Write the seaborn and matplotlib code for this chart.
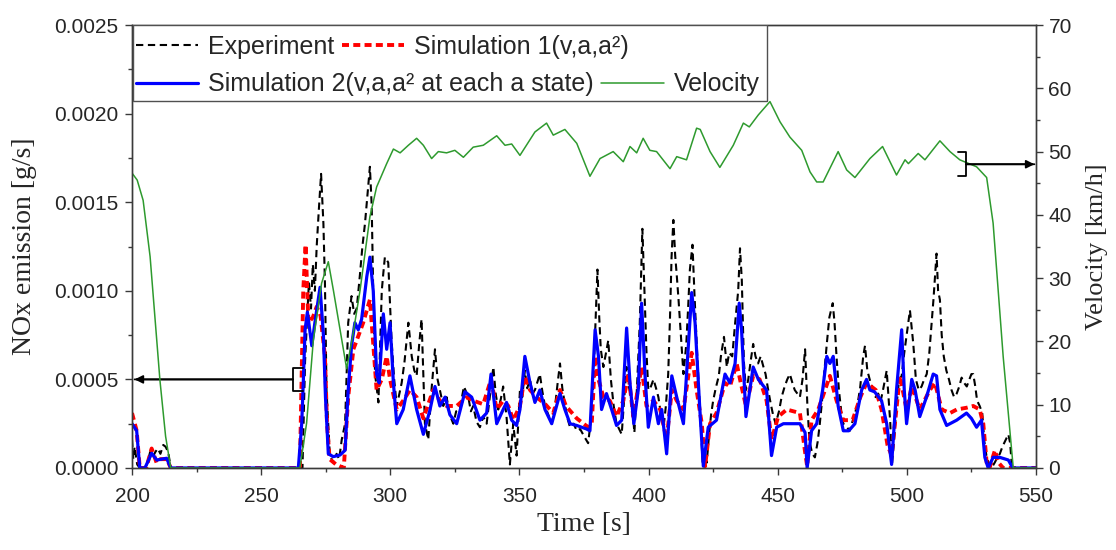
import numpy as np
import matplotlib
matplotlib.use("Agg")
import matplotlib.pyplot as plt
import seaborn as sns
from matplotlib.ticker import MultipleLocator, FormatStrFormatter
from matplotlib.patches import Rectangle

# NOx emission rates are given in units of 1e-4 g/s, velocity in km/h
NOX_UNIT = 1e-4

exp_t = [
    200, 200.5, 201, 202, 203, 205, 206, 207, 208, 209,
    210, 211, 212.1, 213, 214, 215, 266, 266.5, 267, 267.8,
    268.5, 269.3, 270, 270.8, 271.5, 272.3, 273.2, 274.1, 274.7, 275.3,
    276.6, 278, 279.2, 280.2, 281.2, 282.5, 283.7, 285, 286, 287,
    288.3, 289.2, 290.2, 291.2, 292.1, 292.8, 293.5, 294.1, 295.4, 296.7,
    297.3, 297.9, 299.2, 300.5, 301.5, 302.5, 303.5, 304.4, 305.5, 307,
    308.3, 309.3, 310.2, 311.2, 312.1, 313.4, 314.7, 316, 317.3, 318.3,
    319.2, 320.5, 321.8, 323, 324.4, 325.5, 326.9, 328.5, 330.2, 331.2,
    332.1, 333.4, 334.7, 336, 337.3, 338.5, 339.9, 340.8, 341.8, 342.8,
    343.7, 345, 346.3, 347.6, 348.9, 350.2, 351.1, 352.1, 353, 354.1,
    355, 356, 357.9, 358.9, 359.9, 361.2, 362.5, 363.8, 364.8, 365.7,
    366.6, 367.6, 368.6, 369.6, 371, 372.2, 373.5, 375, 376.6, 377.5,
    378.5, 379.4, 380.2, 380.9, 381.5, 382.5, 383.5, 384.4, 385.4, 386.5,
    387.6, 388.6, 389.6, 390.5, 391.5, 392.5, 393.4, 394.5, 395.5, 396.6,
    397.6, 398.4, 399.2, 399.9, 400.9, 401.9, 402.9, 403.8, 404.8, 405.8,
    406.7, 407.6, 408.3, 408.9, 409.6, 410.3, 410.9, 411.6, 412.2, 413.5,
    414.6, 415.3, 416, 417, 417.8, 418.8, 419.5, 420.3, 421, 421.8,
    422.5, 423.5, 424.2, 425, 426, 427.2, 428, 429.2, 430.3, 431.2,
    432.4, 433.4, 434.7, 435.4, 436.1, 436.9, 437.7, 438.6, 439.5, 440.5,
    441.4, 442.4, 443.4, 444.3, 445.3, 446.2, 447.2, 448.2, 449.2, 450.5,
    451.5, 452.7, 453.7, 454.7, 455.7, 456.6, 457.6, 458.6, 459.6, 460.6,
    461.5, 462.3, 463.4, 464.4, 465.5, 466.3, 467.3, 468.1, 469, 470,
    471.3, 472, 472.9, 473.7, 474.6, 475.4, 476.8, 477.9, 478.9, 479.9,
    480.8, 481.9, 483.1, 483.8, 484.7, 485.8, 486.8, 487.9, 488.9, 489.9,
    490.9, 492.2, 492.9, 493.6, 494.2, 495, 496, 497, 498, 499,
    500.2, 501.2, 502.5, 503.5, 504.6, 505.7, 506.7, 507.7, 508.7, 509.6,
    510.3, 510.9, 511.5, 512.1, 512.8, 513.5, 514.3, 515.3, 516.3, 517.3,
    518.3, 519.3, 520.3, 521.2, 522.2, 523.2, 524.2, 525, 525.7, 526.5,
    527.2, 528.2, 529.2, 530, 530.8, 531.8, 532.8, 534, 535.1, 536,
    537, 538, 539.3, 540, 540.7, 550,
]
exp_nox = [
    1.6, 0.5, 1.2, 0.2, 0, 0, 0.3, 0.9, 0.6, 0.9,
    1.1, 0.8, 1.3, 1.2, 0.9, 0, 0, 3.0, 6.0, 8.5,
    10.5, 9.0, 11.5, 10.0, 12.5, 14.5, 16.6, 13.8, 10.4, 4.4,
    0.7, 0.3, 0.8, 0.5, 1.6, 2.5, 8.2, 9.7, 8.7, 9.0,
    11.0, 12.5, 13.8, 15.5, 17.0, 14.8, 9.0, 5.3, 3.7, 10.0,
    11.0, 11.9, 11.6, 7.2, 5.0, 3.5, 4.2, 4.8, 6.0, 8.2,
    6.3, 5.5, 5.2, 7.0, 8.4, 2.5, 1.6, 4.5, 6.7, 5.0,
    4.4, 3.5, 4.0, 3.0, 2.5, 3.2, 3.3, 4.6, 4.0, 3.2,
    3.5, 2.6, 2.3, 2.9, 2.5, 4.0, 5.7, 4.2, 3.3, 3.9,
    4.6, 2.9, 0.2, 2.5, 0.7, 4.4, 4.0, 5.5, 4.5, 5.0,
    4.2, 4.4, 5.3, 4.3, 3.5, 3.0, 2.5, 3.5, 4.8, 5.9,
    4.5, 3.6, 2.8, 2.3, 2.5, 2.1, 2.2, 1.8, 1.4, 2.5,
    4.4, 8.0, 11.2, 8.5, 6.7, 5.7, 6.5, 7.2, 5.0, 3.5,
    2.5, 2.2, 1.9, 3.8, 5.7, 4.5, 4.0, 2.0, 4.5, 8.2,
    13.5, 10.0, 6.5, 4.4, 4.6, 5.0, 4.5, 4.0, 3.0, 2.3,
    3.5, 5.3, 8.5, 11.9, 14.0, 12.0, 10.9, 9.5, 8.2, 5.3,
    7.0, 9.0, 11.2, 12.6, 9.7, 6.5, 4.4, 2.1, 0.1, 0.7,
    0.3, 2.0, 3.0, 3.8, 4.5, 5.2, 6.3, 7.4, 5.7, 6.5,
    6.3, 8.0, 10.0, 12.4, 10.6, 6.0, 4.4, 5.0, 6.0, 7.0,
    6.3, 5.9, 6.3, 5.8, 5.3, 4.5, 3.7, 3.0, 2.5, 3.2,
    4.0, 4.6, 5.0, 5.3, 4.8, 4.4, 4.2, 4.0, 5.0, 6.7,
    3.5, 1.5, 0.8, 0.6, 1.5, 2.5, 4.0, 5.5, 7.0, 8.5,
    9.3, 8.2, 6.0, 4.4, 3.2, 2.5, 2.3, 2.1, 2.6, 3.1,
    3.5, 4.5, 6.3, 6.9, 5.5, 4.9, 4.5, 4.0, 4.2, 3.8,
    4.5, 5.5, 4.0, 2.5, 0.1, 1.5, 3.5, 5.0, 5.2, 6.5,
    7.8, 8.9, 7.0, 5.0, 4.4, 4.6, 5.0, 5.3, 6.5, 8.2,
    9.5, 10.8, 12.1, 10.0, 9.5, 7.5, 6.3, 5.5, 5.0, 4.4,
    4.0, 4.2, 4.6, 5.1, 4.8, 4.6, 5.0, 5.3, 5.3, 4.6,
    3.8, 3.5, 3.1, 1.5, 0.7, 0.2, 0, 0.3, 0.6, 0.8,
    1.2, 1.5, 1.9, 1.4, 0, 0,
]

sim1_t = [
    200, 201.8, 203, 205.5, 207.6, 209.5, 211, 213.5, 215, 265,
    266.3, 267.2, 268.3, 270, 271.5, 273, 274.7, 275.5, 276.5, 279,
    282, 283.7, 285.7, 287, 289.5, 292.1, 293.4, 294.7, 296.7, 298.6,
    299.9, 302.5, 305, 307.6, 310.2, 312.8, 316.6, 319.2, 321.8, 325.7,
    329.6, 332.1, 336, 339, 341.2, 343.7, 345.7, 347.6, 350.2, 352.1,
    354.1, 356.6, 360, 363.1, 365.7, 368, 372.2, 376.6, 378, 379.3,
    380.6, 382.5, 385, 387.6, 390.2, 392.2, 394.1, 397.3, 399.2, 401.9,
    404.5, 407, 409, 410.9, 413.5, 416.7, 418.6, 420.6, 421.9, 423.8,
    426.3, 429.6, 431.5, 434.1, 435.7, 437.7, 440.5, 443, 445.7, 447.6,
    450.2, 453.5, 458.6, 460.6, 461.4, 463.1, 465.7, 470.2, 472.8, 475.4,
    479, 482, 484.4, 488, 490.2, 492.5, 494.1, 497.3, 499.9, 501.9,
    505, 508.9, 510.9, 513.5, 516.7, 519.3, 523.1, 525.7, 528.2, 529.6,
    530.9, 532, 534.1, 535.5, 537.3, 550,
]
sim1_nox = [
    3.1, 2.1, 0, 0, 1.1, 0.3, 0.5, 0.5, 0, 0,
    10.0, 12.6, 8.2, 8.5, 9.1, 8.6, 6.3, 2.5, 0.5, 0.2,
    0, 4.0, 6.7, 7.2, 8.2, 9.5, 7.0, 4.4, 5.0, 6.3,
    5.0, 3.3, 3.8, 4.4, 4.0, 2.8, 4.4, 3.8, 3.5, 3.5,
    4.0, 3.8, 3.6, 5.0, 3.3, 3.8, 3.5, 2.7, 3.5, 5.2,
    4.4, 4.0, 3.6, 3.1, 4.4, 3.5, 2.8, 2.3, 2.5, 6.3,
    5.0, 4.0, 3.8, 2.9, 3.8, 5.3, 2.9, 5.7, 3.5, 3.8,
    3.3, 1.6, 4.4, 3.8, 3.3, 6.5, 4.4, 2.5, 0.1, 2.5,
    3.1, 4.8, 4.6, 5.9, 4.8, 3.5, 5.2, 5.0, 3.8, 1.6,
    2.9, 3.3, 3.1, 0.9, 0.1, 2.7, 3.3, 5.2, 3.8, 2.7,
    2.7, 4.0, 4.8, 4.4, 3.3, 1.3, 0.7, 5.2, 3.3, 4.6,
    3.3, 4.4, 4.8, 3.3, 3.1, 3.3, 3.4, 3.5, 3.3, 2.5,
    0.3, 0, 1.0, 0.3, 0, 0,
]

sim2_t = [
    200, 201.8, 203, 205, 207.6, 209.6, 211.5, 213.4, 215, 264.4,
    265.7, 266.3, 267, 267.9, 269.6, 270.8, 272.8, 274.1, 274.9, 276,
    277.9, 280.5, 282.5, 283.7, 285, 286.3, 287.6, 288.9, 290.9, 292.1,
    293.4, 294.7, 295.7, 297.3, 298.6, 299.9, 301.2, 302.5, 305, 307.6,
    310.2, 312.8, 315.4, 317.3, 319.2, 321.2, 323.1, 325.7, 328.9, 331.5,
    334.7, 337.3, 339, 341.2, 343.7, 345, 347, 348.9, 350.2, 352.1,
    354.1, 356, 357.9, 359.9, 362.5, 365.7, 367.6, 369.6, 372.2, 376,
    377.3, 379.3, 380.6, 381.8, 383.7, 385.7, 387.6, 389.6, 391.5, 392.8,
    394.3, 396, 397.3, 398.6, 399.9, 401.9, 403.8, 405.1, 407, 409,
    410.9, 413.5, 416.7, 418, 420, 421.2, 423.1, 426.3, 429.6, 431.5,
    433.5, 435.1, 436, 437.7, 439.2, 440.5, 442.5, 445.7, 447.6, 449.6,
    452.2, 458.6, 460.6, 461.4, 463.1, 465.1, 467.4, 469, 470.2, 471.5,
    473.4, 475.4, 477.5, 479.9, 482.5, 484.4, 485.7, 487.5, 490.2, 492.2,
    494.1, 496, 498, 499, 499.9, 501.9, 503.2, 505, 507.6, 510.2,
    511.5, 512.8, 515.4, 519.3, 523.1, 525, 527, 528.9, 530.2, 531.5,
    533.4, 536, 539.3, 541, 550,
]
sim2_nox = [
    2.5, 2.1, 0, 0, 0.83, 0.45, 0.5, 0.55, 0, 0,
    2.5, 4.8, 7.8, 8.8, 6.9, 8.2, 10.2, 7.5, 4.0, 0.8,
    0.64, 0.73, 1.0, 4.4, 6.9, 8.2, 7.8, 8.4, 10.8, 11.9,
    10.0, 5.3, 4.8, 8.7, 6.7, 8.2, 4.8, 2.5, 3.3, 5.2,
    3.3, 1.9, 3.3, 4.6, 3.5, 4.0, 3.0, 2.5, 4.3, 4.0,
    2.7, 3.1, 5.3, 2.5, 3.3, 3.7, 2.7, 2.4, 3.3, 6.3,
    4.8, 3.7, 4.4, 3.3, 2.5, 4.2, 3.3, 2.5, 2.4, 2.2,
    2.1, 7.8, 6.3, 3.3, 4.2, 3.3, 2.4, 2.7, 7.9, 4.8,
    2.5, 4.4, 9.3, 5.3, 2.3, 4.0, 2.5, 3.3, 0.8, 5.2,
    4.0, 2.5, 9.9, 8.2, 2.9, 0.1, 2.3, 2.7, 5.3, 4.8,
    5.9, 9.3, 7.8, 2.9, 4.4, 5.7, 5.0, 4.4, 0.7, 2.3,
    2.5, 2.5, 2.0, 0, 2.1, 2.5, 4.4, 6.3, 5.9, 6.3,
    3.5, 2.1, 2.1, 2.5, 4.4, 5.0, 4.4, 4.3, 3.8, 2.5,
    0.2, 4.4, 7.8, 4.4, 2.5, 5.0, 4.4, 2.9, 4.0, 5.3,
    5.2, 3.3, 2.4, 2.7, 3.1, 2.8, 2.3, 2.7, 0.6, 0,
    0.6, 0.6, 0.45, 0, 0,
]

vel_t = [
    200, 202, 204.3, 207, 210.8, 213, 215, 265, 267.6, 270.2,
    273.4, 276, 278, 283.1, 285.5, 288.3, 292.1, 294.7, 298.6, 301.2,
    303.8, 307, 310.2, 312.8, 316, 318.6, 321.8, 325, 328.3, 332.1,
    336, 341.2, 344.4, 347, 350.2, 356, 360.5, 363.1, 367.6, 372.2,
    377.3, 381.2, 386.3, 390.2, 392.8, 395.4, 397.9, 400.5, 403.1, 408.3,
    410.9, 414.7, 418.6, 420, 423.8, 427.6, 432.8, 436.7, 439, 442.5,
    447, 450.9, 454.7, 459.3, 462.5, 465.1, 467.6, 473.4, 476.7, 479.9,
    485.7, 490.6, 496, 499.3, 500.6, 504.4, 507, 512.8, 516.7, 520.5,
    527, 530.9, 533.4, 537.3, 541.2, 550,
]
vel_kmh = [
    46.6, 45.5, 42.3, 33.4, 13.9, 5.0, 0, 0, 7.1, 20.2,
    29.2, 32.6, 28.0, 15.7, 21.0, 28.1, 39.7, 44.4, 48.1, 50.4,
    49.8, 51.0, 52.1, 51.0, 48.9, 50.0, 49.8, 50.2, 49.1, 50.7,
    51.0, 52.5, 51.0, 51.2, 49.4, 53.1, 54.5, 52.6, 53.5, 51.3,
    46.1, 48.9, 50.0, 48.4, 50.8, 49.8, 52.1, 50.2, 50.0, 47.3,
    49.2, 48.7, 53.7, 53.5, 50.0, 47.5, 51.0, 54.5, 53.9, 55.8,
    57.9, 54.7, 52.3, 50.2, 46.8, 45.2, 45.2, 50.0, 47.1, 45.9,
    48.9, 50.8, 46.3, 48.7, 48.1, 49.7, 48.7, 51.7, 50.0, 48.7,
    47.6, 45.9, 38.7, 17.6, 0, 0,
]

series_labels = ["Experiment", "Simulation 1(v,a,a\u00b2)",
                 "Simulation 2(v,a,a\u00b2 at each a state)", "Velocity"]

sns.set_theme(style="ticks")
plt.rcParams["font.family"] = ["Liberation Sans", "DejaVu Sans"]
plt.rcParams["axes.edgecolor"] = "#3a3a3a"
plt.rcParams["axes.linewidth"] = 1.0

fig, ax = plt.subplots(figsize=(11.16, 5.5), dpi=100)
fig.subplots_adjust(left=0.1183, right=0.9283, top=0.9545, bottom=0.1491)
ax2 = ax.twinx()

sns.lineplot(x=exp_t, y=np.array(exp_nox) * NOX_UNIT, ax=ax, color="black",
             lw=1.5, linestyle=(0, (3.5, 2.2)), estimator=None, sort=False,
             dash_joinstyle="round")
h_exp = ax.lines[-1]
sns.lineplot(x=sim1_t, y=np.array(sim1_nox) * NOX_UNIT, ax=ax, color="#ff0000",
             lw=2.8, linestyle=(0, (1.8, 1.1)), estimator=None, sort=False,
             dash_joinstyle="round")
h_s1 = ax.lines[-1]
sns.lineplot(x=sim2_t, y=np.array(sim2_nox) * NOX_UNIT, ax=ax, color="#0000ff",
             lw=2.3, estimator=None, sort=False, solid_joinstyle="round")
h_s2 = ax.lines[-1]
sns.lineplot(x=vel_t, y=vel_kmh, ax=ax2, color="#2e9a2e", lw=1.1,
             estimator=None, sort=False)
h_vel = ax2.lines[-1]

# axes limits and ticks
ax.set_xlim(200, 550)
ax.set_ylim(0, 0.0025)
ax2.set_ylim(0, 70)
ax.xaxis.set_major_locator(MultipleLocator(50))
ax.xaxis.set_minor_locator(MultipleLocator(25))
ax.yaxis.set_major_locator(MultipleLocator(0.0005))
ax.yaxis.set_minor_locator(MultipleLocator(0.00025))
ax.yaxis.set_major_formatter(FormatStrFormatter("%.4f"))
ax2.yaxis.set_major_locator(MultipleLocator(10))
ax2.yaxis.set_minor_locator(MultipleLocator(5))

for a in (ax, ax2):
    a.tick_params(which="major", direction="out", length=5, width=1,
                  labelsize=15, color="#3a3a3a")
    a.tick_params(which="minor", direction="out", length=3, width=1,
                  color="#3a3a3a")
    for s in a.spines.values():
        s.set_visible(True)
        s.set_linewidth(1.0)
ax.tick_params(axis="x", which="major", pad=9)
ax.tick_params(axis="y", which="major", pad=5)
ax2.tick_params(axis="y", which="major", pad=4)

serif = {"family": ["Liberation Serif", "DejaVu Serif"]}
ax.set_xlabel("Time [s]", fontdict=serif, fontsize=20, labelpad=4)
ax.set_ylabel("NOx emission [g/s]", fontdict=serif, fontsize=20, labelpad=12)
ax2.set_ylabel("Velocity [km/h]", fontdict=serif, fontsize=19, labelpad=10)

# arrows pointing each curve group to its own axis
ax.annotate("", xy=(201.0, 0.0005), xytext=(262.3, 0.0005),
            arrowprops=dict(arrowstyle="-|>", color="black", lw=1.3,
                            mutation_scale=12, shrinkA=0, shrinkB=0))
ax.annotate("", xy=(201.0, 0.0005), xytext=(262.3, 0.0005),
            arrowprops=dict(arrowstyle="]-, widthA=0.83, lengthA=0.72",
                            color="black", lw=1.3, mutation_scale=10,
                            shrinkA=0, shrinkB=0))
ax2.annotate("", xy=(549.4, 48.0), xytext=(522.9, 48.0),
             arrowprops=dict(arrowstyle="-|>", color="black", lw=1.3,
                             mutation_scale=12, shrinkA=0, shrinkB=0))
ax2.annotate("", xy=(549.4, 48.0), xytext=(522.9, 48.0),
             arrowprops=dict(arrowstyle="]-, widthA=0.86, lengthA=0.6",
                             color="black", lw=1.3, mutation_scale=10,
                             shrinkA=0, shrinkB=0))

# legend: two rows inside one shared frame
frame = Rectangle((0.001, 0.828), 0.7015, 0.172, transform=ax2.transAxes,
                  facecolor="white", edgecolor="#505050", lw=1.0, zorder=4.5)
ax2.add_patch(frame)
leg_kw = dict(ncol=2, loc="center left", frameon=False, fontsize=18,
              handlelength=2.5, handletextpad=0.4, columnspacing=0.3,
              borderpad=0, borderaxespad=0)
leg1 = ax2.legend([h_exp, h_s1], series_labels[:2],
                  bbox_to_anchor=(0.004, 0.950), **leg_kw)
ax2.add_artist(leg1)
leg2 = ax2.legend([h_s2, h_vel], series_labels[2:],
                  bbox_to_anchor=(0.004, 0.866), **leg_kw)

fig.savefig("out.png", dpi=100, facecolor="white")
